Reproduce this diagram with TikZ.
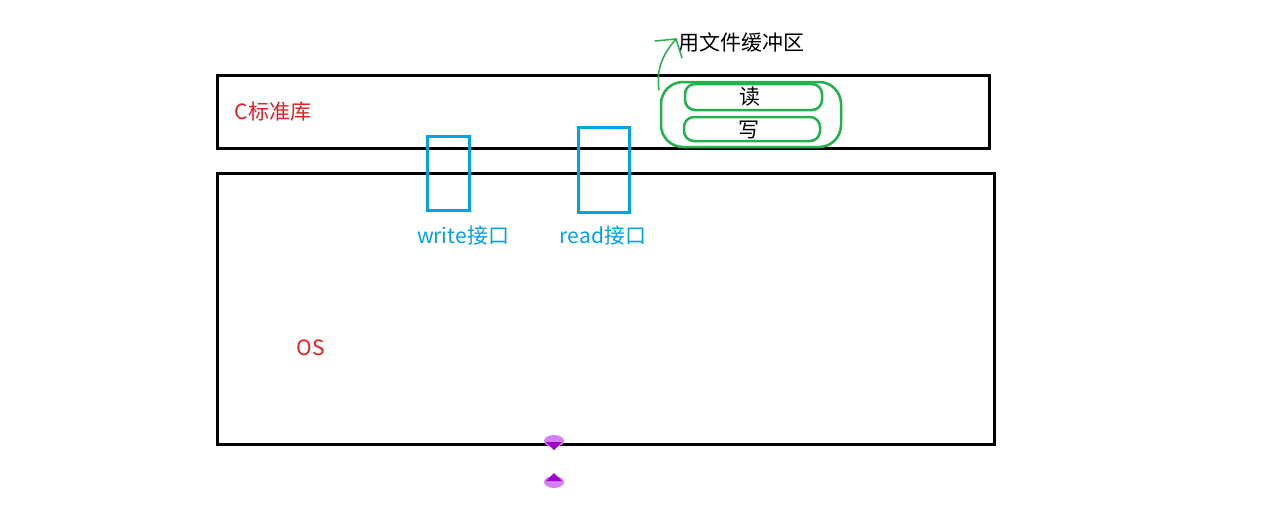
\documentclass[tikz,border=0pt]{standalone}
\usepackage{fontspec}
\setmainfont{Noto Sans CJK SC}
\usetikzlibrary{shapes.geometric}
\definecolor{cred}{HTML}{ED1C24}
\definecolor{cblue}{HTML}{00A2E8}
\definecolor{cgreen}{HTML}{22B14C}
\definecolor{pl}{HTML}{D580F5}
\definecolor{pd}{HTML}{A000C8}
\begin{document}
\begin{tikzpicture}[x=1pt,y=-1pt,
  blk/.style={draw=black,line width=3pt},
  iface/.style={draw=cblue,line width=3pt},
  gbox/.style={draw=cgreen,line width=2.5pt},
  lbl/.style={font=\fontsize{21}{23}\selectfont,inner sep=0pt}]
\useasboundingbox (0,0) rectangle (1280,509);
\fill[white] (0,0) rectangle (1280,509);
% C library box
\draw[blk] (217,75) rectangle (989,148);
\node[lbl,text=cred] (clib) at (273,112) {C标准库};
% OS box
\draw[blk] (217,173) rectangle (994,444);
\node[lbl,text=cred] (os) at (311,348) {OS};
% interfaces
\draw[iface] (427,136) rectangle (469,210);
\draw[iface] (578,127) rectangle (629,212);
\node[lbl,text=cblue] (wl) at (463,236) {write接口};
\node[lbl,text=cblue] (rl) at (603,236) {read接口};
% green buffer
\draw[gbox,rounded corners=22pt] (661,82) rectangle (841,147);
\draw[gbox,rounded corners=10pt] (685,84) rectangle (822,110);
\draw[gbox,rounded corners=10pt] (684,117) rectangle (820,141);
\node[lbl] (rd) at (750,97) {读};
\node[lbl] (wr) at (749,130) {写};
\node[lbl,anchor=west] (buf) at (678,42) {用文件缓冲区};
% green arrow
\coordinate (tip) at (676,39);
\draw[cgreen,line width=1.5pt,line cap=round] (659,90) .. controls (656,70) and (662,55) .. (tip);
\draw[cgreen,line width=1.5pt,line cap=round] (655,41) -- (tip) -- (682,58);
% purple marks
\fill[pl] (554,441) ellipse (10pt and 6pt);
\fill[pd] (546,442) -- (562,442) -- (554,450) -- cycle;
\fill[pl] (554,482) ellipse (10pt and 6pt);
\fill[pd] (546,481) -- (562,481) -- (554,473) -- cycle;
\end{tikzpicture}
\end{document}
